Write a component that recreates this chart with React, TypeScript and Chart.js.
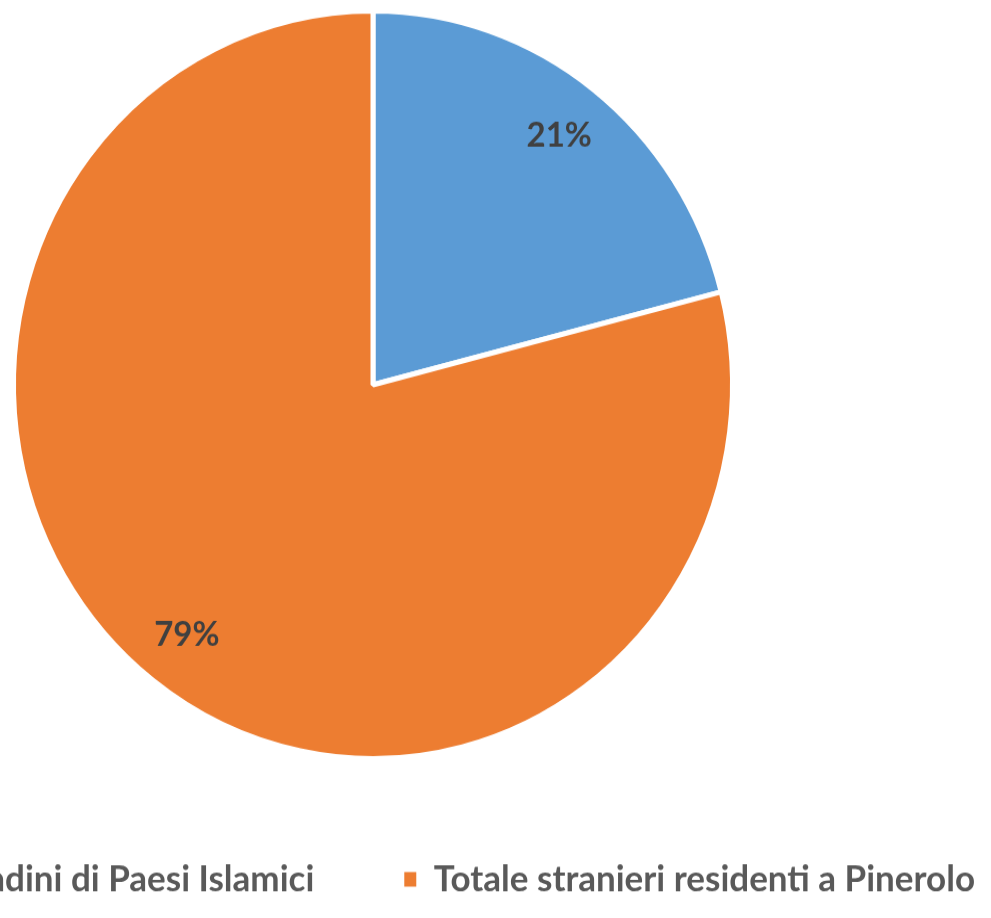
import React, { useEffect, useRef } from "react";
import { Chart, registerables } from "chart.js";

Chart.register(...registerables);

const categories = ["Cittadini di Paesi Islamici", "Totale stranieri residenti a Pinerolo"];
const values = [21, 79];
const percentLabels = ["21%", "79%"];
const colors = ["#5B9BD5", "#ED7D31"];

const labelPlugin = {
  id: "sliceLabels",
  afterDatasetsDraw(chart: any) {
    const ctx = chart.ctx;
    const meta = chart.getDatasetMeta(0);
    ctx.save();
    ctx.font = "bold 33px Lato";
    ctx.fillStyle = "#404040";
    ctx.textAlign = "center";
    ctx.textBaseline = "middle";
    meta.data.forEach((arc: any, i: number) => {
      const { x, y, startAngle, endAngle, outerRadius } = arc.getProps(
        ["x", "y", "startAngle", "endAngle", "outerRadius"],
        true
      );
      const mid = (startAngle + endAngle) / 2;
      const r = outerRadius * 0.845;
      ctx.fillText(percentLabels[i], x + Math.cos(mid) * r, y + Math.sin(mid) * r);
    });
    ctx.restore();
  },
};

export default function App() {
  const ref = useRef<HTMLCanvasElement | null>(null);
  useEffect(() => {
    if (!ref.current) return;
    const baseGen = (Chart as any).overrides.pie.plugins.legend.labels.generateLabels;
    const chart = new Chart(ref.current, {
      type: "pie",
      data: {
        labels: categories,
        datasets: [
          {
            data: values,
            backgroundColor: colors,
            borderColor: "#ffffff",
            borderWidth: 5,
          },
        ],
      },
      options: {
        animation: false,
        responsive: true,
        maintainAspectRatio: false,
        layout: { padding: { top: 8, bottom: 0, left: 0, right: 0 } },
        plugins: {
          tooltip: { enabled: false },
          legend: {
            position: "bottom",
            align: "end",
            title: {
              display: true,
              text: " ",
              padding: { top: 5, bottom: 0 },
              font: { size: 1, lineHeight: 1 },
            },
            labels: {
              boxWidth: 12,
              boxHeight: 14,
              padding: 90,
              color: "#595959",
              font: { family: "Lato", weight: "bold", size: 35 },
              generateLabels: (c: any) =>
                baseGen(c).map((it: any) => ({ ...it, lineWidth: 0, strokeStyle: it.fillStyle })),
            },
          },
        },
      },
      plugins: [labelPlugin],
    });
    return () => chart.destroy();
  }, []);

  return (
    <div
      style={{
        position: "fixed",
        left: 0,
        top: 0,
        width: 991,
        height: 918,
        overflow: "hidden",
        background: "#ffffff",
      }}
    >
      <div
        style={{
          position: "absolute",
          left: -319,
          top: 0,
          width: 1384,
          height: 873,
          transform: "scaleY(1.04)",
          transformOrigin: "top left",
        }}
      >
        <canvas ref={ref} />
      </div>
    </div>
  );
}
